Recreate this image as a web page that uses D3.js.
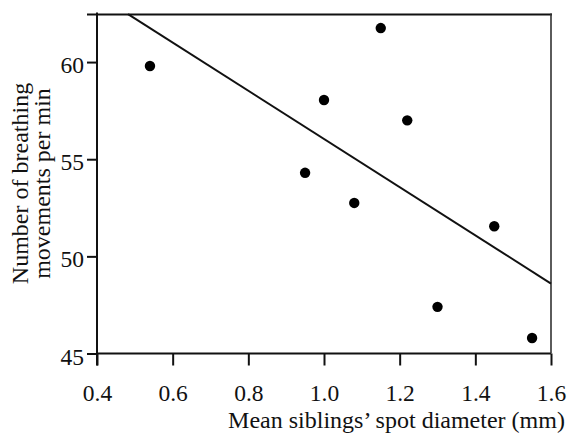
<!DOCTYPE html>
<html>
<head>
<meta charset="utf-8">
<script src="https://cdn.jsdelivr.net/npm/d3@7"></script>
<style>
  body { margin: 0; background: white; }
  svg { display: block; }
  text { font-family: "Liberation Serif", "Times New Roman", serif; fill: #111; }
</style>
</head>
<body>
<svg id="chart" width="573" height="439"></svg>
<script>
// Spot diameter vs breathing rate scatter with fitted line.

var spotDiameter = [0.54, 0.95, 1.00, 1.08, 1.15, 1.22, 1.30, 1.45, 1.55];
var breathRate   = [59.8, 54.3, 58.05, 52.75, 61.75, 57.0, 47.4, 51.55, 45.8];
var fitX = [0.482, 1.6];
var fitY = [62.47, 48.6];
var xTicks = [0.4, 0.6, 0.8, 1.0, 1.2, 1.4, 1.6];
var yTicks = [45, 50, 55, 60];

var LEFT = 97, RIGHT = 551, TOP = 13.5, BOTTOM = 353.5;
var FONT = "'Liberation Serif', 'Times New Roman', serif";

var svg = d3.select("#chart");
var x = d3.scaleLinear().domain([0.4, 1.6]).range([LEFT, RIGHT]);
var y = d3.scaleLinear().domain([45, 62.5]).range([BOTTOM, TOP]);

// axes
var xAxis = d3.axisBottom(x).tickValues(xTicks).tickFormat(d3.format(".1f")).tickSize(12);
var yAxis = d3.axisLeft(y).tickValues(yTicks).tickSize(10).tickPadding(3);

var gx = svg.append("g").attr("transform", "translate(0," + BOTTOM + ")").call(xAxis);
var gy = svg.append("g").attr("transform", "translate(" + LEFT + ",0)").call(yAxis);
[gx, gy].forEach(function (g) {
    g.attr("font-family", null);
    g.select(".domain").remove();
    g.selectAll("line").attr("stroke", "#111").attr("stroke-width", 2);
    g.selectAll("text").style("font-size", "23.5px").style("font-family", FONT).attr("fill", "#111");
});
gx.selectAll("text").attr("y", 47).attr("dy", 0);
gy.selectAll("text").attr("dy", "0.45em");

// frame
svg.append("line").attr("x1", LEFT).attr("x2", RIGHT).attr("y1", BOTTOM).attr("y2", BOTTOM)
    .attr("stroke", "#111").attr("stroke-width", 2);
svg.append("line").attr("x1", LEFT).attr("x2", LEFT).attr("y1", TOP - 1).attr("y2", BOTTOM + 12)
    .attr("stroke", "#111").attr("stroke-width", 2);
svg.append("line").attr("x1", LEFT - 10).attr("x2", RIGHT + 1).attr("y1", TOP + 1).attr("y2", TOP + 1)
    .attr("stroke", "#111").attr("stroke-width", 2);
svg.append("line").attr("x1", RIGHT).attr("x2", RIGHT).attr("y1", TOP).attr("y2", BOTTOM)
    .attr("stroke", "#333").attr("stroke-width", 1.6);

// fitted line
svg.append("line")
    .attr("x1", x(fitX[0])).attr("y1", y(fitY[0]))
    .attr("x2", x(fitX[1])).attr("y2", y(fitY[1]))
    .attr("stroke", "#111").attr("stroke-width", 2);

// points
svg.selectAll("circle.pt").data(spotDiameter).enter().append("circle")
    .attr("class", "pt")
    .attr("cx", function (d) { return x(d); })
    .attr("cy", function (d, i) { return y(breathRate[i]); })
    .attr("r", 5.2)
    .attr("fill", "#000");

// axis titles
svg.append("text").attr("x", 396.5).attr("y", 428).attr("text-anchor", "middle")
    .style("font-size", "24px").style("font-family", FONT)
    .text("Mean siblings\u2019 spot diameter (mm)");

var yt = svg.append("text").attr("transform", "translate(28,183.5) rotate(-90)")
    .attr("text-anchor", "middle").style("font-size", "24px").style("font-family", FONT);
yt.append("tspan").attr("x", 0).attr("dy", 0).text("Number of breathing");
yt.append("tspan").attr("x", 0).attr("dy", 22).text("movements per min");
</script>
</body>
</html>
